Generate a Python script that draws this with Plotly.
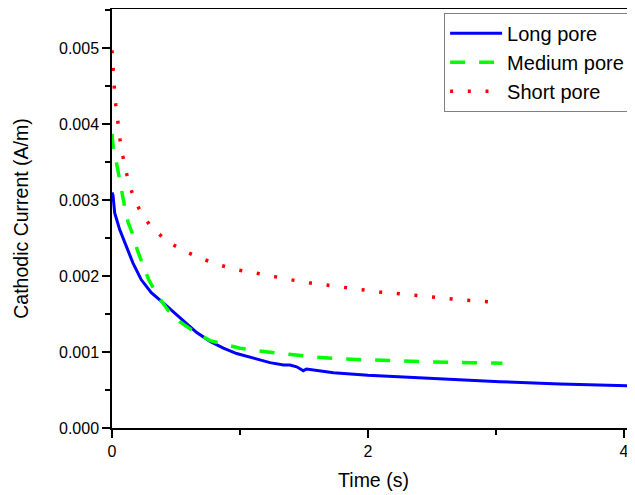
import plotly.graph_objects as go

# Long pore (blue solid)
long_t = [0, 0.008, 0.021, 0.06, 0.112, 0.164, 0.229, 0.307, 0.398, 0.453, 0.557, 0.662, 0.766,
          0.87, 0.974, 1.104, 1.234, 1.34, 1.39, 1.443, 1.495, 1.52, 1.625, 1.73, 2.0, 2.25, 2.6,
          3.03, 3.5, 4.1]
long_i = [0.00310, 0.00306, 0.00283, 0.00261, 0.00239, 0.00217, 0.00195, 0.00178, 0.00165, 0.00157,
          0.00141, 0.001255, 0.00114, 0.00105, 0.00098, 0.00092, 0.00086, 0.00083, 0.000828, 0.000805,
          0.000754, 0.000776, 0.000755, 0.000728, 0.000695, 0.000672, 0.00064, 0.000609, 0.00058,
          0.000552]

# Medium pore (green dashed)
med_t = [0, 0.01, 0.036, 0.055, 0.075, 0.099, 0.125, 0.164, 0.198, 0.242, 0.287, 0.354, 0.4375,
         0.529, 0.662, 0.766, 0.896, 1.0, 1.125, 1.234, 1.35, 1.46, 1.58, 1.8, 2.1, 2.5, 2.8, 3.05]
med_i = [0.00387, 0.00368, 0.00348, 0.00331, 0.00309, 0.00291, 0.00271, 0.00254, 0.00234, 0.00214,
         0.00195, 0.00175, 0.00155, 0.00140, 0.001246, 0.00115, 0.00109, 0.00105, 0.001017, 0.000996,
         0.000974, 0.000952, 0.000934, 0.000908, 0.00089, 0.000868, 0.00086, 0.000851]

# Short pore (red dotted)
short_t = [0, 0.008, 0.018, 0.029, 0.044, 0.0625, 0.086, 0.115, 0.154, 0.213, 0.302, 0.435, 0.576,
           0.714, 0.849, 0.984, 1.12, 1.26, 1.40, 1.54, 1.67, 1.81, 1.95, 2.09, 2.22, 2.5, 2.77, 3.04]
short_i = [0.00497, 0.00471, 0.00448, 0.00426, 0.00403, 0.0038, 0.00357, 0.00334, 0.00311, 0.00288,
           0.00265, 0.00245, 0.00232, 0.00222, 0.00214, 0.00208, 0.00204, 0.00199, 0.00195, 0.00191,
           0.00188, 0.00185, 0.00182, 0.00179, 0.00177, 0.00172, 0.00168, 0.00165]

x_ticks = [0, 2, 4]
y_ticks = [0.000, 0.001, 0.002, 0.003, 0.004, 0.005]

FONT = "Liberation Sans, Arial, sans-serif"

fig = go.Figure()
fig.add_trace(go.Scatter(x=long_t, y=long_i, mode="lines", name="Long pore",
                         line=dict(color="#0000FF", width=3)))
fig.add_trace(go.Scatter(x=med_t, y=med_i, mode="lines", name="Medium pore",
                         line=dict(color="#00FF00", width=3.5, dash="15px,14px")))
fig.add_trace(go.Scatter(x=short_t, y=short_i, mode="lines", name="Short pore",
                         line=dict(color="#FF0000", width=3.5, dash="3px,14.7px")))

# page body has an 8px margin; figure sized so plot area lands at x 112-635, y 9-428
fig.update_layout(
    width=627, height=487,
    margin=dict(l=104, r=0, t=1, b=67),
    paper_bgcolor="white", plot_bgcolor="white",
    font=dict(family=FONT, color="black", size=16),
    showlegend=True,
    legend=dict(x=0.635, y=0.991, xanchor="left", yanchor="top",
                bgcolor="white", bordercolor="#808080", borderwidth=1,
                font=dict(size=20, family=FONT), itemwidth=52, tracegroupgap=0),
)
fig.update_xaxes(
    range=[0, 523 / 128], tickvals=x_ticks, ticktext=[str(v) for v in x_ticks],
    showgrid=False, zeroline=False, showline=True, linecolor="black", linewidth=1.5,
    ticks="outside", ticklen=8, tickwidth=1.5, tickcolor="black", mirror="ticks",
    minor=dict(dtick=1, ticks="outside", ticklen=5, tickwidth=1.5, tickcolor="black", showgrid=False),
    tickfont=dict(size=16),
    title=dict(text="Time (s)", font=dict(size=19.5), standoff=14),
    automargin=False,
)
fig.update_yaxes(
    range=[0, 0.005513], tickvals=y_ticks, tickformat=".3f",
    showgrid=False, zeroline=False, showline=True, linecolor="black", linewidth=1.5,
    ticks="outside", ticklen=8, tickwidth=1.5, tickcolor="black", mirror=False,
    minor=dict(dtick=0.0005, ticks="outside", ticklen=5, tickwidth=1.5, tickcolor="black", showgrid=False),
    tickfont=dict(size=16),
    title=dict(text="Cathodic Current (A/m)", font=dict(size=19.5), standoff=25),
    automargin=False,
)

fig.write_html("out.html")
